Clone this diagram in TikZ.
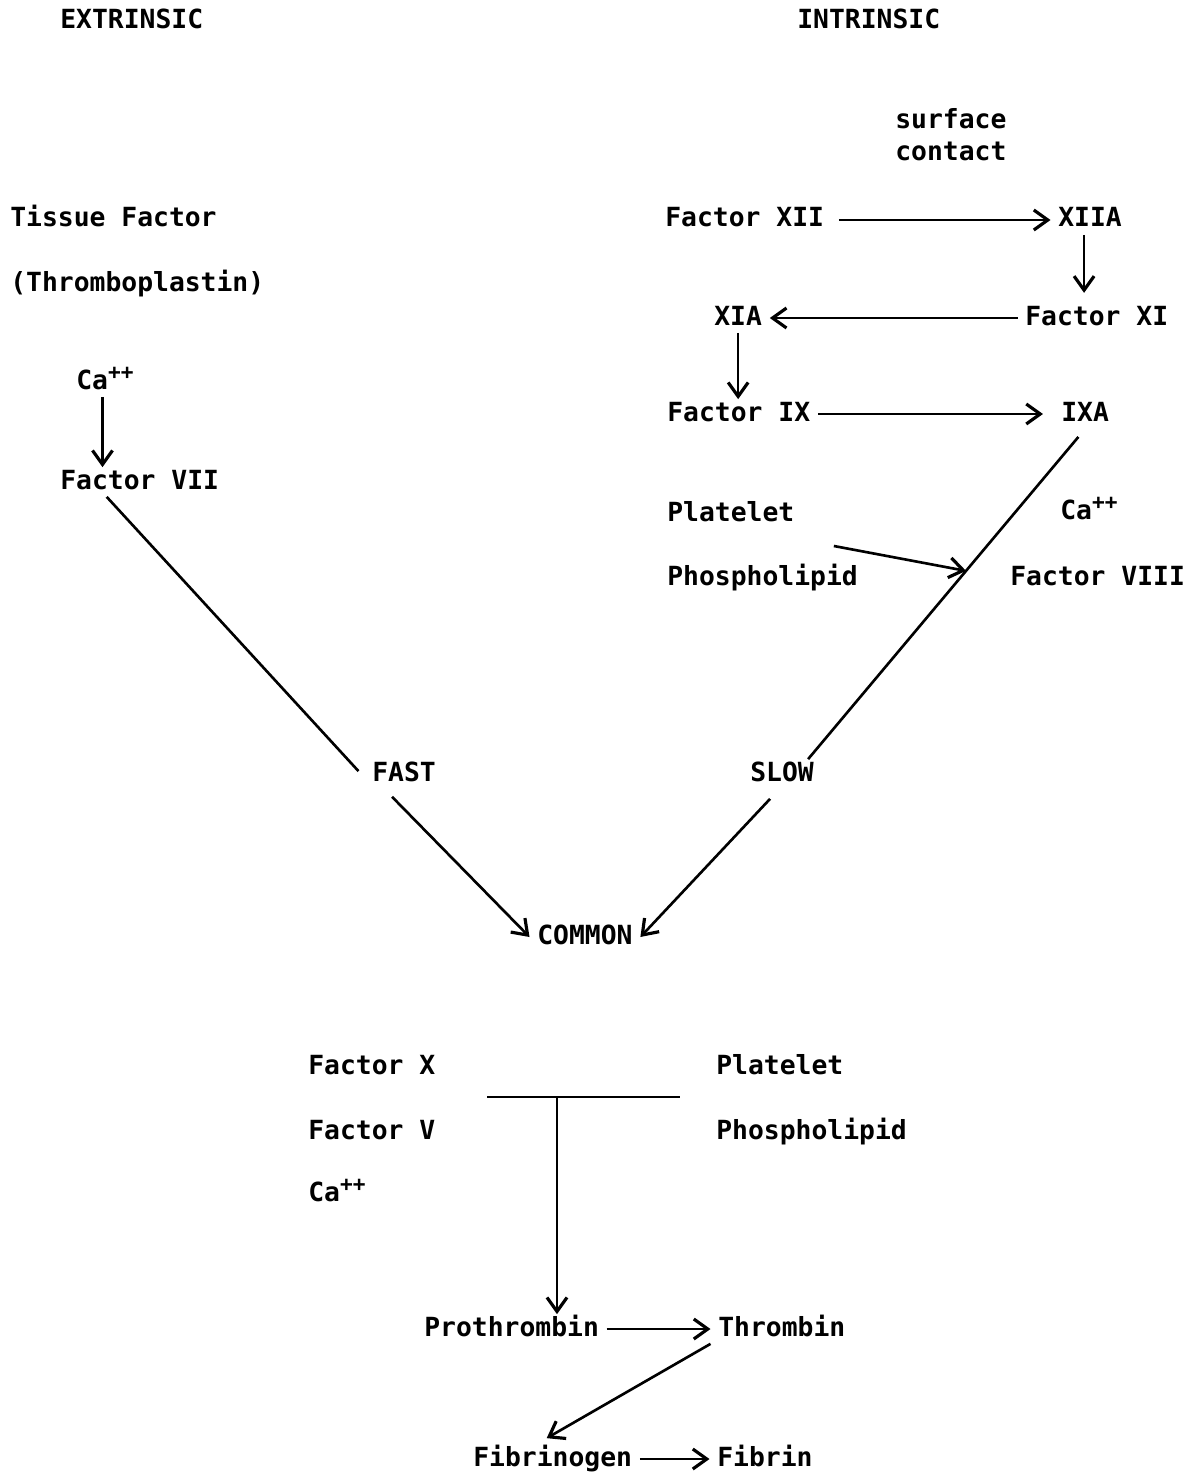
\documentclass[tikz,border=0pt]{standalone}
\usepackage{fontspec}
\setmainfont{DejaVu Sans Mono}
\usetikzlibrary{calc,arrows.meta}
\tikzset{
  lbl/.style={anchor=west, xshift=-0.15cm, inner xsep=0.15cm, inner ysep=0.05cm, text height=0.38cm, text depth=0.1cm, font=\fontsize{15}{18}\selectfont\bfseries},
  arr/.style={line width=1.5pt, -{Straight Barb[length=2.8mm,width=4mm,line width=1.8pt]}},
  ln/.style={line width=1.5pt}
}
\newcommand{\calc}{Ca\textsuperscript{\large ++}}

\begin{document}
\begin{tikzpicture}[x=0.02cm, y=-0.02cm]
		%%%%% START %%%%%
		\useasboundingbox (0, 0) rectangle (1201, 1477);
		
		% headings
		\node[lbl] (extr) at (60, 22) {EXTRINSIC};
		\node[lbl] (intr) at (797, 22) {INTRINSIC};
		
		% extrinsic side
		\node[lbl] (tissue) at (10, 220) {Tissue Factor};
		\node[lbl] (thrombo) at (10, 285) {(Thromboplastin)};
		\node[lbl] (caL) at (76, 382) {\calc};
		\node[lbl] (fvii) at (60, 482) {Factor VII};
		
		% intrinsic side
		\node[lbl] (surf) at (895, 122) {surface};
		\node[lbl] (cont) at (895, 154) {contact};
		\node[lbl] (fxii) at (665, 220) {Factor XII};
		\node[lbl] (xiia) at (1058, 220) {XIIA};
		\node[lbl] (xia) at (714, 318) {XIA};
		\node[lbl] (fxi) at (1025, 318) {Factor XI};
		\node[lbl] (fix) at (667, 414) {Factor IX};
		\node[lbl] (ixa) at (1061, 414) {IXA};
		\node[lbl] (plat1) at (667, 514) {Platelet};
		\node[lbl] (phos1) at (667, 578) {Phospholipid};
		\node[lbl] (caR) at (1060, 512) {\calc};
		\node[lbl] (fviii) at (1010, 578) {Factor VIII};
		
		\node[lbl] (fast) at (372, 774) {FAST};
		\node[lbl] (slow) at (750, 774) {SLOW};
		\node[lbl] (common) at (537, 937) {COMMON};
		
		% common pathway
		\node[lbl] (fx) at (308, 1067) {Factor X};
		\node[lbl] (fv) at (308, 1132) {Factor V};
		\node[lbl] (caB) at (308, 1194) {\calc};
		\node[lbl] (plat2) at (716, 1067) {Platelet};
		\node[lbl] (phos2) at (716, 1132) {Phospholipid};
		\node[lbl] (proth) at (424, 1329) {Prothrombin};
		\node[lbl] (thromb) at (718, 1329) {Thrombin};
		\node[lbl] (fibgen) at (473, 1459) {Fibrinogen};
		\node[lbl] (fibrin) at (717, 1459) {Fibrin};
		
		% arrows
		\coordinate (caA) at ($(caL.south west)+(34, 0)$);
		\draw[arr] (caA) -- (caA |- fvii.north);
		\draw[ln] ($(fvii.south)+(-33, 0)$) -- ($(fast.north west)+(-6, 12)$);
		
		\draw[arr, shorten <=4pt] (fxii.east) -- (xiia.west);
		\draw[arr] ($(xiia.south)+(-6, 0)$) -- ($(xiia.south)+(-6, 58)$);
		\draw[arr] (fxi.west) -- (xia.east);
		\draw[arr] (xia.south) -- (xia.south |- fix.north);
		\draw[arr, shorten >=6pt] (fix.east) -- (ixa.west);
		
		\coordinate (slowtop) at ($(slow.north)+(26, 0)$);
		\draw[ln, shorten <=6pt] (ixa.south) -- (slowtop);
		\coordinate (hit) at ($(ixa.south)!0.43!(slowtop)$);
		\draw[arr] ($(plat1.east)!0.5!(phos1.east)$) -- (hit);
		
		\draw[arr] ($(fast.south)+(-12, 8)$) -- (common.west);
		\draw[arr] ($(slow.south)+(-12, 10)$) -- (common.east);
		
		\coordinate (barL) at (487, 1097);
		\coordinate (barR) at (680, 1097);
		\coordinate (barM) at (557, 1097);
		\draw[ln] (barL) -- (barR);
		\draw[arr] (barM) -- (barM |- proth.north);
		
		\draw[arr] (thromb.south west) -- ($(fibgen.north)+(-6, -6)$);
		\draw[arr] (proth.east) -- (thromb.west);
		\draw[arr] (fibgen.east) -- (fibrin.west);
		%%%%% END %%%%%
	\end{tikzpicture}
\end{document}
